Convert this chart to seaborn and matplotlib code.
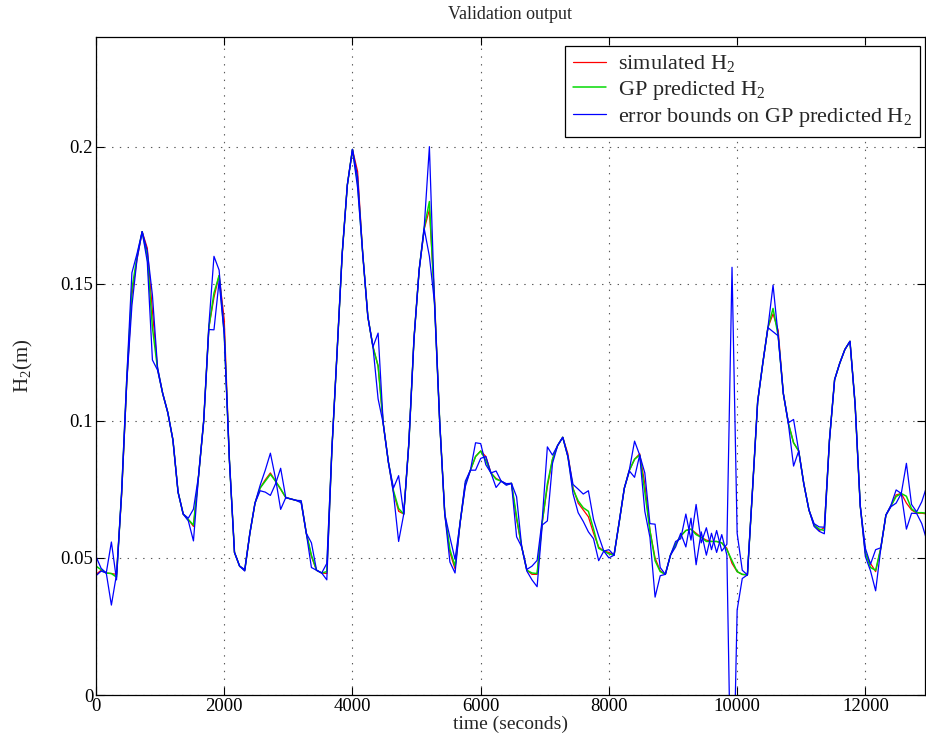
import numpy as np
import pandas as pd
import matplotlib
matplotlib.use("Agg")
import matplotlib.pyplot as plt
import seaborn as sns

# ---------------- data ----------------
time_step = 80  # seconds between samples

sim_h2 = [
    0.0440, 0.0455, 0.0445, 0.0443, 0.0440, 0.0730, 0.1140, 0.1460, 0.1590, 0.1690,
    0.1630, 0.1400, 0.1190, 0.1100, 0.1030, 0.0930, 0.0740, 0.0660, 0.0640, 0.0615,
    0.0800, 0.1000, 0.1340, 0.1450, 0.1530, 0.1370, 0.0860, 0.0520, 0.0470, 0.0455,
    0.0590, 0.0700, 0.0755, 0.0785, 0.0810, 0.0780, 0.0750, 0.0720, 0.0715, 0.0710,
    0.0705, 0.0590, 0.0505, 0.0455, 0.0445, 0.0443, 0.0900, 0.1250, 0.1610, 0.1860,
    0.1990, 0.1910, 0.1610, 0.1380, 0.1270, 0.1200, 0.0990, 0.0850, 0.0740, 0.0670,
    0.0660, 0.0920, 0.1300, 0.1550, 0.1700, 0.1770, 0.1450, 0.1000, 0.0660, 0.0520,
    0.0460, 0.0630, 0.0770, 0.0820, 0.0870, 0.0890, 0.0870, 0.0810, 0.0790, 0.0780,
    0.0768, 0.0772, 0.0640, 0.0540, 0.0455, 0.0440, 0.0440, 0.0630, 0.0760, 0.0860,
    0.0910, 0.0940, 0.0880, 0.0755, 0.0700, 0.0675, 0.0650, 0.0590, 0.0540, 0.0525,
    0.0520, 0.0510, 0.0630, 0.0754, 0.0820, 0.0860, 0.0880, 0.0770, 0.0600, 0.0500,
    0.0453, 0.0440, 0.0510, 0.0550, 0.0580, 0.0600, 0.0605, 0.0590, 0.0575, 0.0565,
    0.0560, 0.0560, 0.0555, 0.0535, 0.0480, 0.0450, 0.0440, 0.0438, 0.0750, 0.1070,
    0.1210, 0.1340, 0.1390, 0.1330, 0.1100, 0.0990, 0.0920, 0.0890, 0.0770, 0.0675,
    0.0620, 0.0600, 0.0610, 0.0930, 0.1150, 0.1210, 0.1260, 0.1290, 0.1060, 0.0690,
    0.0517, 0.0480, 0.0450, 0.0535, 0.0656, 0.0690, 0.0730, 0.0735, 0.0700, 0.0675,
    0.0663, 0.0663, 0.0660,
]

gp_h2 = [
    0.0470, 0.0457, 0.0445, 0.0443, 0.0430, 0.0740, 0.1150, 0.1480, 0.1600, 0.1690,
    0.1600, 0.1340, 0.1190, 0.1100, 0.1030, 0.0930, 0.0740, 0.0660, 0.0640, 0.0620,
    0.0800, 0.1000, 0.1340, 0.1466, 0.1530, 0.1320, 0.0860, 0.0520, 0.0470, 0.0455,
    0.0590, 0.0700, 0.0755, 0.0780, 0.0805, 0.0780, 0.0752, 0.0720, 0.0715, 0.0710,
    0.0705, 0.0590, 0.0510, 0.0455, 0.0445, 0.0450, 0.0900, 0.1250, 0.1610, 0.1860,
    0.1990, 0.1870, 0.1610, 0.1380, 0.1270, 0.1200, 0.0990, 0.0850, 0.0745, 0.0680,
    0.0660, 0.0920, 0.1300, 0.1550, 0.1705, 0.1800, 0.1430, 0.1000, 0.0660, 0.0530,
    0.0470, 0.0630, 0.0770, 0.0820, 0.0870, 0.0890, 0.0855, 0.0810, 0.0787, 0.0780,
    0.0768, 0.0772, 0.0650, 0.0540, 0.0455, 0.0445, 0.0443, 0.0630, 0.0770, 0.0860,
    0.0910, 0.0940, 0.0870, 0.0751, 0.0708, 0.0683, 0.0670, 0.0605, 0.0535, 0.0525,
    0.0515, 0.0510, 0.0630, 0.0754, 0.0820, 0.0860, 0.0875, 0.0740, 0.0600, 0.0490,
    0.0450, 0.0440, 0.0510, 0.0550, 0.0580, 0.0600, 0.0605, 0.0585, 0.0575, 0.0560,
    0.0560, 0.0560, 0.0555, 0.0530, 0.0490, 0.0450, 0.0440, 0.0438, 0.0750, 0.1070,
    0.1210, 0.1340, 0.1410, 0.1310, 0.1100, 0.0990, 0.0920, 0.0890, 0.0770, 0.0675,
    0.0620, 0.0605, 0.0600, 0.0930, 0.1150, 0.1210, 0.1260, 0.1290, 0.1060, 0.0690,
    0.0520, 0.0465, 0.0455, 0.0535, 0.0656, 0.0690, 0.0724, 0.0735, 0.0725, 0.0679,
    0.0665, 0.0665, 0.0663,
]

# signed half-width of the error bounds (upper = gp + err, lower = gp - err)
gp_err = [
    0.0035, 0.0005, 0.0, 0.0115, -0.001, 0.0005, 0.001, 0.006, 0.001, 0.0,
    0.002, 0.0118, 0.0005, 0.0, 0.0, 0.0, 0.0, 0.0, 0.0005, 0.0058,
    0.0, 0.0, 0.0007, 0.0134, 0.002, 0.0005, 0.0, 0.0, 0.0, 0.0003,
    0.0, 0.0, 0.001, 0.004, 0.0077, 0.001, -0.0075, 0.0, 0.0, 0.0,
    0.0004, 0.0, 0.0045, 0.0, 0.0, 0.003, 0.0, 0.0, 0.0, 0.0,
    0.0, 0.002, 0.0, 0.0, 0.0, 0.012, 0.0, 0.0, 0.001, 0.012,
    0.0, 0.0, 0.0, 0.0, 0.0005, 0.020, 0.0, 0.0, 0.0, 0.0045,
    0.0025, 0.0, 0.001, 0.0, 0.005, 0.0027, -0.0015, 0.0, 0.003, 0.0,
    0.0003, 0.0, 0.0073, 0.0, 0.0003, 0.0025, 0.0048, 0.001, 0.0135, 0.0015,
    0.0, 0.0, 0.0, 0.0017, 0.0043, 0.005, 0.0075, 0.0035, 0.0045, 0.0,
    0.0015, 0.0, 0.0, 0.0, 0.0003, 0.0066, 0.0, 0.007, 0.0025, 0.0133,
    0.0015, 0.0, 0.0, 0.001, -0.001, 0.006, -0.004, 0.011, -0.002, 0.005,
    -0.003, 0.004, -0.003, 0.002, 0.107, 0.014, 0.0015, 0.0, 0.0, 0.0,
    0.0, 0.0, 0.0085, 0.0, 0.0, 0.0003, 0.0085, 0.0, 0.0, 0.0,
    0.0005, 0.0008, 0.0012, 0.0, 0.0, 0.0, 0.0, 0.0, 0.0, 0.0,
    0.0015, 0.0012, 0.0075, 0.0002, 0.0, 0.0003, 0.0024, 0.0, 0.012, 0.0016,
    0.0003, 0.004, 0.010,
]

x_ticks = [0, 2000, 4000, 6000, 8000, 10000, 12000]
y_ticks = [0, 0.05, 0.1, 0.15, 0.2]
y_tick_labels = ["0", "0.05", "0.1", "0.15", "0.2"]

title_text = "Validation output"
x_label = "time (seconds)"
y_label = "H$_2$(m)"
legend_labels = ["simulated H$_2$", "GP predicted H$_2$", "error bounds on GP predicted H$_2$"]

# ---------------- style ----------------
sns.set_style("ticks")
plt.rcParams["font.family"] = ["Liberation Serif", "DejaVu Serif"]
plt.rcParams["mathtext.fontset"] = "custom"
plt.rcParams["mathtext.rm"] = "Liberation Serif"
plt.rcParams["mathtext.it"] = "Liberation Serif:italic"
plt.rcParams["lines.scale_dashes"] = False

times = np.arange(len(sim_h2)) * time_step
gp_arr = np.array(gp_h2)
err_arr = np.array(gp_err)
df = pd.DataFrame({
    "t": times,
    "sim": sim_h2,
    "gp": gp_arr,
    "upper": gp_arr + err_arr,
    "lower": gp_arr - err_arr,
})

fig = plt.figure(figsize=(9.26, 7.5), dpi=100)
ax = fig.add_axes([96 / 926, 55 / 750, 829 / 926, 658 / 750])

lw = 0.9
sns.lineplot(data=df, x="t", y="sim", color=(1, 0, 0), lw=lw, ax=ax,
             estimator=None, sort=False, label=legend_labels[0])
sns.lineplot(data=df, x="t", y="gp", color=(0, 0.85, 0), lw=lw * 1.2, ax=ax,
             estimator=None, sort=False, label=legend_labels[1])
sns.lineplot(data=df, x="t", y="upper", color=(0, 0, 1), lw=lw, ax=ax,
             estimator=None, sort=False, label=legend_labels[2])
sns.lineplot(data=df, x="t", y="lower", color=(0, 0, 1), lw=lw, ax=ax,
             estimator=None, sort=False)

ax.set_xlim(0, 12930)
ax.set_ylim(0, 0.24)
ax.set_xticks(x_ticks)
ax.set_xticklabels([str(v) for v in x_ticks])
ax.set_yticks(y_ticks)
ax.set_yticklabels(y_tick_labels)

ax.grid(True, linestyle=(0, (1, 4.6)), color="0.35", linewidth=0.8)
ax.tick_params(direction="in", top=True, right=True, length=6, width=0.8,
               labelsize=13.5, pad=2, colors="black")
for sp in ax.spines.values():
    sp.set_visible(True)
    sp.set_color("black")
    sp.set_linewidth(0.9)

ax.set_title(title_text, fontsize=13, pad=13)
ax.set_xlabel(x_label, fontsize=14, labelpad=1)
ax.set_ylabel(y_label, fontsize=15, labelpad=18)

leg = ax.legend(loc="upper right", bbox_to_anchor=(0.994, 0.987), borderaxespad=0,
                fontsize=16, frameon=True, fancybox=False, framealpha=1,
                edgecolor="black", handlelength=1.5, handletextpad=0.55,
                labelspacing=0.2, borderpad=0.35)
leg.get_frame().set_linewidth(0.9)

fig.savefig("out.png", dpi=100)
